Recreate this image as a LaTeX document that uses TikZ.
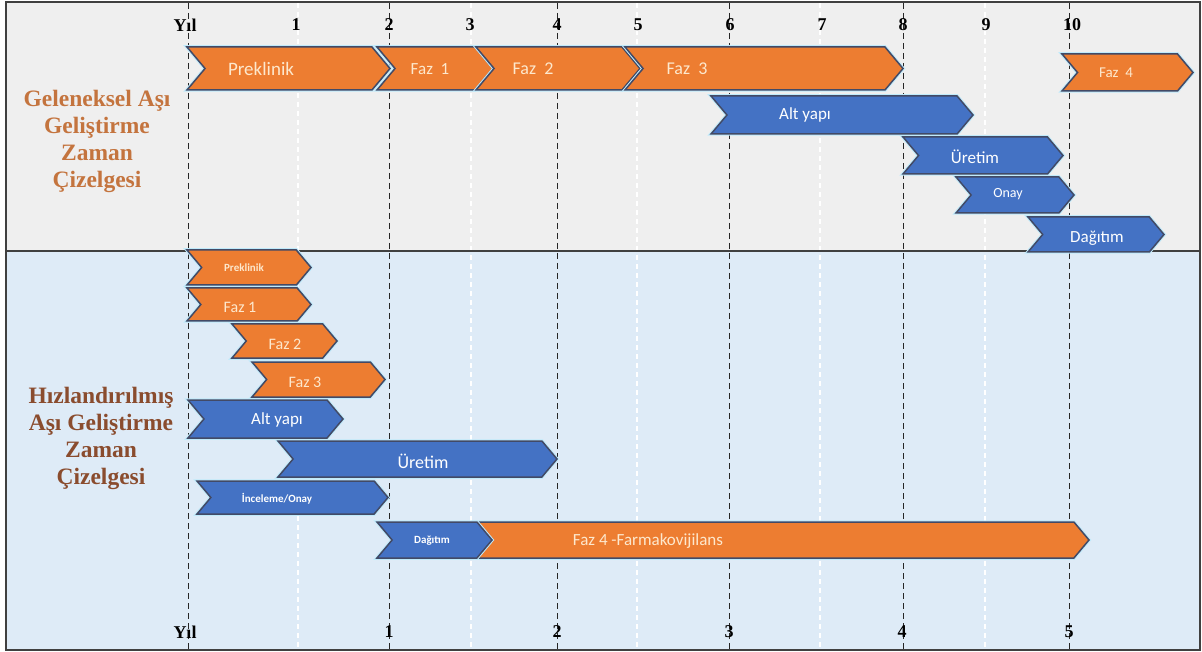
\documentclass[tikz,border=0pt]{standalone}
\usepackage{fontspec}
\setmainfont{Liberation Serif}
\setsansfont{Carlito}
\usetikzlibrary{shapes.symbols}
\definecolor{chevorange}{RGB}{237,125,49}
\definecolor{chevblue}{RGB}{68,114,196}
\definecolor{chevline}{RGB}{66,74,102}
\definecolor{topband}{RGB}{239,239,239}
\definecolor{lowband}{RGB}{222,235,247}
\definecolor{titleA}{RGB}{196,116,62}
\definecolor{titleB}{RGB}{138,76,46}
\definecolor{creamtext}{RGB}{253,232,205}

\begin{document}
\begin{tikzpicture}[x=1pt,y=-1pt,
  chev/.style={shape=signal,signal to=east,signal from=west,signal pointer angle=100,draw=chevline,line width=1.5pt,inner sep=0pt,preaction={draw=white!75!cyan,line width=3.5pt}},
  orng/.style 2 args={chev,fill=chevorange,minimum width=#1,minimum height=#2},
  blu/.style 2 args={chev,fill=chevblue,minimum width=#1,minimum height=#2},
  ltxt/.style={font=\sffamily\fontsize{#1}{#1}\selectfont,text=creamtext,inner sep=0pt},
  wtxt/.style={font=\sffamily\fontsize{#1}{#1}\selectfont,text=white,inner sep=0pt},
  axis/.style={font=\bfseries\fontsize{18}{18}\selectfont,inner sep=0pt},
  title/.style={font=\bfseries\fontsize{23.5}{27}\selectfont,align=center,inner sep=0pt},
  gridk/.style={dash pattern=on 6pt off 4pt,line width=0.9pt,black!85},
  gridw/.style={dash pattern=on 5pt off 4pt,line width=1.2pt,white}]
\useasboundingbox (0,0) rectangle (1202,652);
% bands
\fill[topband] (6,2) rectangle (1200,251);
\fill[lowband] (6,251) rectangle (1200,650);
\draw[gridw] (298,3)--(298,649); \draw[gridw] (471,3)--(471,649); \draw[gridw] (637,3)--(637,649);
\draw[gridw] (820,3)--(820,649); \draw[gridw] (985,3)--(985,649);
\draw[gridk] (188,3)--(188,649); \draw[gridk] (389,3)--(389,649); \draw[gridk] (557,3)--(557,649);
\draw[gridk] (729,3)--(729,649); \draw[gridk] (903,3)--(903,649); \draw[gridk] (1069,3)--(1069,649);
\draw[line width=1.2pt,black!75] (6,251)--(1200,251);
\draw[line width=1.2pt,black!75] (6,2) rectangle (1200,650);
% year labels
\node[axis] (t0) at (185,25) {Yıl}; \node[axis] (t1) at (296,25) {1}; \node[axis] (t2) at (389,25) {2};
\node[axis] (t3) at (470,25) {3}; \node[axis] (t4) at (557,25) {4}; \node[axis] (t5) at (638,25) {5};
\node[axis] (t6) at (730,25) {6}; \node[axis] (t7) at (822,25) {7}; \node[axis] (t8) at (903,25) {8};
\node[axis] (t9) at (986,25) {9}; \node[axis] (t10) at (1072,25) {10};
\node[axis] (b0) at (185,632) {Yıl}; \node[axis] (b1) at (389,632) {1}; \node[axis] (b2) at (557,632) {2};
\node[axis] (b3) at (729,632) {3}; \node[axis] (b4) at (902,632) {4}; \node[axis] (b5) at (1069,632) {5};
% titles
\node[title,text=titleA] (gTitle) at (97,141) {Geleneksel Aşı\\Geliştirme\\Zaman\\Çizelgesi};
\node[title,text=titleB] (hTitle) at (101,438) {Hızlandırılmış\\Aşı Geliştirme\\Zaman\\Çizelgesi};
% traditional timeline
\node[orng={203pt}{43pt}] (gPre) at (288.5,68.5) {};
\node[orng={116pt}{43pt}] (gFaz1) at (435,68.5) {};
\node[orng={164pt}{43pt}] (gFaz2) at (558,68.5) {};
\node[orng={278pt}{43pt}] (gFaz3) at (764,68.5) {};
\node[orng={131pt}{37pt}] (gFaz4) at (1127.5,72.5) {};
\node[blu={262pt}{38pt}] (gAlt) at (842,115) {};
\node[blu={160pt}{37pt}] (gUre) at (983,155.5) {};
\node[blu={118pt}{36pt}] (gOnay) at (1015,195) {};
\node[blu={136pt}{35pt}] (gDag) at (1096,234.5) {};
\node[ltxt=19] (gPreL) at (261,69) {Preklinik};
\node[ltxt=17] (gFaz1L) at (430,69) {Faz~~1};
\node[ltxt=18] (gFaz2L) at (533,69) {Faz~~2};
\node[ltxt=18] (gFaz3L) at (687,69) {Faz~~3};
\node[ltxt=15] (gFaz4L) at (1116,73) {Faz~~4};
\node[wtxt=17] (gAltL) at (805,115) {Alt yapı};
\node[wtxt=17] (gUreL) at (975,157) {Üretim};
\node[wtxt=14] (gOnayL) at (1008,194) {Onay};
\node[wtxt=17] (gDagL) at (1097,238) {Dağıtım};
% accelerated timeline
\node[orng={124pt}{35pt}] (hPre) at (249,267.5) {};
\node[orng={124pt}{33pt}] (hFaz1) at (249,304.5) {};
\node[orng={105pt}{34pt}] (hFaz2) at (284.5,341) {};
\node[orng={133pt}{35pt}] (hFaz3) at (318.5,379.5) {};
\node[blu={155pt}{38pt}] (hAlt) at (265.5,419) {};
\node[blu={279pt}{36pt}] (hUre) at (417.5,459) {};
\node[blu={191pt}{33pt}] (hInc) at (292.5,497.5) {};
\node[orng={614pt}{36pt}] (hFaz4) at (782,540) {};
\node[blu={115pt}{36pt}] (hDag) at (434.5,540) {};
\node[ltxt=11,font=\sffamily\bfseries\fontsize{11}{11}\selectfont] (hPreL) at (244,268) {Preklinik};
\node[ltxt=16] (hFaz1L) at (240,307) {Faz 1};
\node[ltxt=16] (hFaz2L) at (285,344) {Faz 2};
\node[ltxt=16] (hFaz3L) at (305,382) {Faz 3};
\node[wtxt=17] (hAltL) at (277,420) {Alt yapı};
\node[wtxt=18] (hUreL) at (423,461) {Üretim};
\node[wtxt=11,font=\sffamily\bfseries\fontsize{11}{11}\selectfont] (hIncL) at (277,499) {İnceleme/Onay};
\node[wtxt=11,font=\sffamily\bfseries\fontsize{11}{11}\selectfont] (hDagL) at (432,541) {Dağıtım};
\node[ltxt=17] (hFaz4L) at (648,541) {Faz 4 -Farmakovijilans};
\end{tikzpicture}
\end{document}
